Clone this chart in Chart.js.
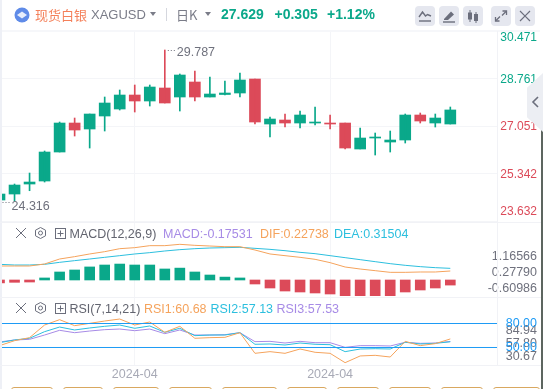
<!DOCTYPE html>
<html>
<head>
<meta charset="utf-8">
<script src="https://cdn.jsdelivr.net/npm/chart.js@4"></script>
<style>
html, body { margin: 0; padding: 0; background: #fff; overflow: hidden; }
body { width: 543px; height: 389px; position: relative; font-family: "Liberation Sans", Arial, sans-serif; }
canvas { position: absolute; left: 0; }
.t { position: absolute; white-space: nowrap; transform: translateY(-50%); font-size: 12.5px; line-height: 16px; }
.btn { position: absolute; top: 6px; width: 20px; height: 20px; background: #e5e7ef; border-radius: 4px; }
.ln { position: absolute; background: #f1f2f6; }
.tab { position: absolute; bottom: 0; top: 387px; height: 6px; border: 1px solid #d9a860; border-radius: 3px; box-sizing: border-box; }
svg { position: absolute; overflow: visible; }
</style>
</head>
<body>

<canvas id="priceChart" width="543" height="222" style="top:0"></canvas>
<canvas id="macdChart" width="543" height="74" style="top:222px"></canvas>
<canvas id="rsiChart" width="543" height="93" style="top:296px"></canvas>

<div class="ln" style="left:0;top:0;width:2px;height:389px;background:#eef0f6"></div>
<div class="ln" style="left:2px;top:30px;width:538px;height:2px;background:#f6f7fa"></div>
<div class="ln" style="left:0;top:222px;width:541px;height:1px"></div>
<div class="ln" style="left:0;top:297px;width:541px;height:1px"></div>
<div class="ln" style="left:0;top:365px;width:541px;height:1px"></div>
<div class="ln" style="left:497px;top:31px;width:1px;height:334px"></div>
<div class="ln" style="left:541px;top:130px;width:2px;height:259px;background:#5d6660"></div>

<!-- header -->
<svg style="left:14px;top:7px" width="16" height="16"><circle cx="8" cy="8" r="7.5" fill="#5f8be8"/><path d="M8 4.5 13 8 8 11.5 3 8Z" fill="#fff" opacity=".85"/></svg>
<div class="t" style="left:35px;top:13.5px;font:13px 'Noto Sans CJK SC';color:#f4805a">现货白银</div>
<div class="t" style="left:91px;top:14.5px;font-size:13px;color:#7a7c88">XAGUSD</div>
<svg style="left:150px;top:12px" width="6" height="4"><path d="M0 0H6L3 4Z" fill="#7a7c88"/></svg>
<div class="ln" style="left:166px;top:8px;width:1px;height:13px;background:#d5d7de"></div>
<div class="t" style="left:176px;top:13.5px;font:13px 'Noto Sans CJK SC';color:#7a7c88">日K</div>
<svg style="left:205px;top:12px" width="6" height="4"><path d="M0 0H6L3 4Z" fill="#7a7c88"/></svg>
<div class="t" style="left:221px;top:13.5px;font-size:14px;font-weight:bold;color:#0aa88a">27.629</div>
<div class="t" style="left:274.5px;top:13.5px;font-size:14px;font-weight:bold;color:#0aa88a">+0.305</div>
<div class="t" style="left:327px;top:13.5px;font-size:14px;font-weight:bold;color:#0aa88a">+1.12%</div>

<div class="btn" style="left:415px"><svg width="20" height="20"><path d="M4 11 7.5 6 10.500 10 12.500 8.500 16 10" fill="none" stroke="#6b6e7c" stroke-width="1.4"/><path d="M4 15H16" stroke="#6b6e7c" stroke-width="1.4"/></svg></div>
<div class="btn" style="left:439px"><svg width="20" height="20"><path d="M5 13 12 5.500 15 8.500 9 14H5Z" fill="#6b6e7c"/><path d="M4 16H16" stroke="#6b6e7c" stroke-width="1.4"/></svg></div>
<div class="btn" style="left:463px"><svg width="20" height="20"><path d="M7 4V16M13 6V17" stroke="#6b6e7c"/><rect x="5" y="6.500" width="4" height="7" fill="#6b6e7c"/><rect x="11" y="8" width="4" height="7" fill="#6b6e7c"/></svg></div>
<div class="btn" style="left:491px"><svg width="20" height="20"><path d="M11.500 5H15.500V9M8.500 15H4.500V11" fill="none" stroke="#6b6e7c" stroke-width="1.3"/><path d="M15 5.500 11 9.500M5 14.500 9 10.500" stroke="#6b6e7c" stroke-width="1.3"/></svg></div>
<div class="btn" style="left:515px"><svg width="20" height="20"><path d="M5 5 15 15M15 5 5 15" stroke="#6b6e7c" stroke-width="1.2"/></svg></div>

<!-- collapsed side tab -->
<div class="ln" style="left:527px;top:73px;width:16px;height:59px;background:#eceef3;clip-path:polygon(0 25%,100% 0,100% 100%,0 75%)"></div>
<svg style="left:532px;top:96px" width="7" height="12"><path d="M6 1 1 6 6 11" fill="none" stroke="#6b6e7c" stroke-width="1.6"/></svg>

<!-- MACD legend -->
<svg style="left:15px;top:227px" width="12" height="12"><path d="M1 1 11 11M11 1 1 11" stroke="#6b6e7c"/></svg>
<svg style="left:35px;top:227px" width="11" height="12"><path d="M5.500 .5 10.500 3.200V8.800L5.500 11.500 .5 8.800V3.200Z" fill="none" stroke="#6b6e7c"/><circle cx="5.500" cy="6" r="2" fill="none" stroke="#6b6e7c"/></svg>
<svg style="left:55px;top:228px" width="11" height="11"><rect x=".5" y=".5" width="10" height="10" fill="none" stroke="#6b6e7c"/><path d="M2.500 5.500H8.500M5.500 2.500V8.500" stroke="#6b6e7c"/></svg>
<div class="t" style="left:69.500px;top:233.500px;color:#62646f">MACD(12,26,9)</div>
<div class="t" style="left:163px;top:233.500px;color:#a78be6">MACD:-0.17531</div>
<div class="t" style="left:260px;top:233.500px;color:#f5a35c">DIF:0.22738</div>
<div class="t" style="left:334px;top:233.500px;color:#2cbfde">DEA:0.31504</div>

<!-- RSI legend -->
<svg style="left:15px;top:302px" width="12" height="12"><path d="M1 1 11 11M11 1 1 11" stroke="#6b6e7c"/></svg>
<svg style="left:35px;top:302px" width="11" height="12"><path d="M5.500 .5 10.500 3.200V8.800L5.500 11.500 .5 8.800V3.200Z" fill="none" stroke="#6b6e7c"/><circle cx="5.500" cy="6" r="2" fill="none" stroke="#6b6e7c"/></svg>
<svg style="left:55px;top:303px" width="11" height="11"><rect x=".5" y=".5" width="10" height="10" fill="none" stroke="#6b6e7c"/><path d="M2.500 5.500H8.500M5.500 2.500V8.500" stroke="#6b6e7c"/></svg>
<div class="t" style="left:69.500px;top:308.500px;color:#62646f">RSI(7,14,21)</div>
<div class="t" style="left:144px;top:308.500px;color:#f5a35c">RSI1:60.68</div>
<div class="t" style="left:210.500px;top:308.500px;color:#2cbfde">RSI2:57.13</div>
<div class="t" style="left:276.500px;top:308.500px;color:#a78be6">RSI3:57.53</div>

<!-- cut off buttons under the chart -->
<div class="tab" style="left:11px;width:42px"></div>
<div class="tab" style="left:63px;width:40px"></div>
<div class="tab" style="left:113px;width:46px"></div>
<div class="tab" style="left:169px;width:43px"></div>
<div class="tab" style="left:222px;width:55px"></div>
<div class="tab" style="left:287px;width:40px"></div>
<div class="tab" style="left:337px;width:42px"></div>
<div class="tab" style="left:389px;width:42px"></div>
<div class="tab" style="left:441px;width:42px"></div>
<div class="tab" style="left:493px;width:47px"></div>

<script>
// candles, one per trading day
var opens  = [24.387, 24.603, 24.963, 25.071, 26.115, 27.159, 26.943, 27.411, 27.663, 28.167, 27.951, 28.419, 28.095, 28.635, 28.095, 28.185, 28.239, 28.743, 27.123, 27.267, 27.159, 27.159, 27.159, 27.159, 26.223, 26.619, 26.475, 26.547, 27.447, 27.159, 27.123];
var closes = [24.603, 24.927, 25.035, 26.115, 27.159, 26.907, 27.483, 27.879, 28.167, 27.951, 28.455, 27.879, 28.887, 28.095, 28.203, 28.239, 28.707, 27.195, 27.303, 27.159, 27.447, 27.195, 27.123, 26.259, 26.619, 26.655, 26.547, 27.447, 27.231, 27.339, 27.629];
var highs  = [24.62, 24.963, 25.359, 26.151, 27.195, 27.339, 27.483, 28.095, 28.347, 28.527, 28.527, 29.787, 28.923, 29.031, 28.815, 28.671, 28.959, 28.743, 27.375, 27.483, 27.591, 27.735, 27.447, 27.159, 26.979, 26.799, 26.871, 27.483, 27.519, 27.483, 27.735];
var lows   = [24.316, 24.351, 24.722, 25.035, 26.115, 26.691, 26.259, 26.871, 27.627, 27.555, 27.771, 27.879, 27.591, 27.951, 28.095, 28.167, 28.095, 27.123, 26.655, 27.015, 26.979, 27.087, 26.943, 26.223, 26.223, 26.007, 26.115, 26.439, 27.159, 27.015, 27.123];

var macdHist = [-0.10, -0.08, -0.07, 0.07, 0.276, 0.345, 0.45, 0.517, 0.55, 0.517, 0.517, 0.38, 0.41, 0.276, 0.172, 0.10, 0.07, -0.138, -0.276, -0.38, -0.414, -0.448, -0.483, -0.586, -0.586, -0.586, -0.552, -0.414, -0.345, -0.276, -0.175];
var dif = [0.483, 0.483, 0.483, 0.552, 0.724, 0.805, 0.897, 0.977, 1.08, 1.115, 1.184, 1.184, 1.23, 1.195, 1.172, 1.149, 1.149, 1.034, 0.897, 0.839, 0.782, 0.713, 0.598, 0.448, 0.379, 0.322, 0.264, 0.264, 0.276, 0.276, 0.31];
var dea = [0.54, 0.517, 0.517, 0.54, 0.609, 0.667, 0.724, 0.782, 0.839, 0.897, 0.943, 1.0, 1.046, 1.08, 1.103, 1.115, 1.126, 1.092, 1.057, 1.011, 0.954, 0.908, 0.839, 0.77, 0.701, 0.632, 0.563, 0.506, 0.46, 0.425, 0.402];

var rsi1 = [52.3, 58.5, 62.3, 78.1, 84.8, 77.3, 80.2, 83.1, 85.6, 78.1, 81.9, 69.0, 76.5, 61.5, 62.3, 62.7, 68.5, 42.7, 44.8, 42.7, 48.1, 44.0, 42.7, 31.0, 39.4, 40.2, 38.1, 57.7, 52.3, 54.8, 60.68];
var rsi2 = [56.0, 59.4, 61.5, 69.8, 75.6, 71.9, 74.4, 76.5, 78.1, 74.0, 76.9, 69.0, 74.0, 64.8, 65.6, 65.6, 68.5, 54.0, 54.4, 53.1, 55.6, 54.0, 53.5, 44.8, 48.1, 48.5, 48.1, 56.5, 54.4, 55.2, 57.13];
var rsi3 = [56.9, 59.4, 60.2, 65.6, 71.5, 68.5, 70.6, 72.3, 73.1, 71.0, 73.1, 67.3, 71.9, 65.6, 65.6, 66.0, 68.5, 57.3, 57.7, 55.6, 57.7, 56.0, 56.0, 50.2, 52.3, 52.3, 51.9, 56.5, 55.2, 55.6, 57.53];

// tick labels
var priceTicks = [30.471, 28.761, 27.051, 25.342, 23.632];
var macdTicks = [1.16566, 0.27790, -0.60986];
var rsiTicks = [84.94, 57.80, 30.67];
var rsiLevels = [80, 50];
var dateTicks = [9, 22];
var dateLabels = ['2024-04', '2024-04'];

var lastPrice = 27.629;
var GREEN = '#0aa88a', RED = '#dc4a59', GRID = '#f4f5f8', GREY = '#6f717d', BLUE = '#1e9bf5', FONT = '"Liberation Sans", Arial, sans-serif';
var X_MIN = 0.033, X_MAX = 33.107, PX_PER_BAR = 15.027;

function xy(arr) { return arr.map(function (v, i) { return { x: i, y: v }; }); }

// same horizontal scale in the three panes so the candles line up, axisWidth is what is left of 497px
function xAxis(showLabels, axisWidth) {
  return {
    type: 'linear', min: X_MIN, max: X_MAX - (axisWidth - 40) / PX_PER_BAR, offset: false,
    afterBuildTicks: function (s) { s.ticks = dateTicks.map(function (v) { return { value: v }; }); },
    afterFit: function (s) { s.height = showLabels ? 24 : 0; },
    border: { display: false },
    grid: { color: GRID, drawTicks: false, offset: false },
    ticks: {
      display: showLabels, maxRotation: 0, padding: 2, color: '#a8aab6', font: { family: FONT, size: 12.5 },
      callback: function (v) { return dateLabels[dateTicks.indexOf(v)]; }
    }
  };
}

function rightAxis(min, max, tickVals, digits, axisWidth, extra) {
  var o = {
    position: 'right', min: min, max: max,
    afterBuildTicks: function (s) { s.ticks = tickVals.map(function (v) { return { value: v }; }); },
    // no room kept for half a label above and below, the panes sit edge to edge
    afterFit: function (s) { s.width = axisWidth; s.paddingTop = 0; s.paddingBottom = 0; },
    border: { display: false },
    grid: { display: false, drawTicks: false },
    ticks: {
      crossAlign: 'far', padding: 0, color: GREY, font: { family: FONT, size: 12.5 },
      callback: function (v) { return v.toFixed(digits); }
    }
  };
  return Object.assign(o, extra || {});
}

var baseOptions = {
  responsive: false, animation: false, events: [],
  plugins: { legend: { display: false }, tooltip: { enabled: false } }
};

function lineSet(data, color, axis) {
  return { type: 'line', data: xy(data), borderColor: color, borderWidth: 1, pointRadius: 0, tension: 0, yAxisID: axis };
}

function levelSet(level) {
  return { type: 'line', data: [{ x: X_MIN, y: level }, { x: X_MAX, y: level }], borderColor: BLUE, borderWidth: 1, pointRadius: 0, yAxisID: 'y2' };
}

// price labels are pulled inside the pane at both ends, plus the high/low markers
var pricePlugin = {
  id: 'priceLabels',
  afterDraw: function (chart) {
    var c = chart.ctx, y = chart.scales.y, x = chart.scales.x, area = chart.chartArea;
    c.save();
    c.font = '12px ' + FONT;
    c.textAlign = 'right';
    c.textBaseline = 'middle';
    priceTicks.forEach(function (v) {
      var py = Math.min(Math.max(y.getPixelForValue(v) + 1, area.top + 6.5), area.bottom - 9);
      c.fillStyle = v > lastPrice ? GREEN : RED;
      c.fillText(v.toFixed(3), 537, py);
    });
    var hi = Math.max.apply(null, highs), lo = Math.min.apply(null, lows);
    [[highs.indexOf(hi), hi, 3], [lows.indexOf(lo), lo, 5]].forEach(function (m) {
      var px = x.getPixelForValue(m[0]), py = y.getPixelForValue(m[1]);
      c.strokeStyle = GREY;
      c.setLineDash([1, 2]);
      c.beginPath();
      c.moveTo(Math.max(px + 3, 2), py + 0.5);
      c.lineTo(px + 11, py + 0.5);
      c.stroke();
      c.fillStyle = GREY;
      c.textAlign = 'left';
      c.font = '12.5px ' + FONT;
      c.fillText(m[1].toFixed(3), px + 12, py + m[2]);
    });
    c.restore();
  }
};

// blue level labels of the RSI pane
var levelPlugin = {
  id: 'levelLabels',
  afterDraw: function (chart) {
    var c = chart.ctx, y = chart.scales.y2;
    c.save();
    c.font = '12.5px ' + FONT;
    c.textAlign = 'right';
    c.textBaseline = 'middle';
    c.fillStyle = BLUE;
    rsiLevels.forEach(function (v) { c.fillText(v.toFixed(2), 537, y.getPixelForValue(v)); });
    c.restore();
  }
};

new Chart(document.getElementById('priceChart').getContext('2d'), {
  type: 'bar',
  data: {
    datasets: [
      {
        data: highs.map(function (h, i) { return { x: i, y: [lows[i], h] }; }),
        backgroundColor: closes.map(function (v, i) { return v >= opens[i] ? GREEN : RED; }),
        barThickness: 1, grouped: false
      },
      {
        data: opens.map(function (o, i) { return { x: i, y: [o, closes[i]] }; }),
        backgroundColor: closes.map(function (v, i) { return v >= opens[i] ? GREEN : RED; }),
        barThickness: 11, grouped: false
      }
    ]
  },
  options: Object.assign({}, baseOptions, {
    layout: { autoPadding: false, padding: { top: 31, right: 6, bottom: 1, left: 0 } },
    scales: {
      x: xAxis(false, 40),
      y: rightAxis(23.632, 30.471, priceTicks, 3, 40, {
        grid: { color: GRID, drawTicks: false },
        ticks: { display: false }
      })
    }
  }),
  plugins: [pricePlugin]
});

// MACD labels are wider than the 40px column
new Chart(document.getElementById('macdChart').getContext('2d'), {
  type: 'bar',
  data: {
    datasets: [
      lineSet(dif, '#f5a35c', 'y2'),
      lineSet(dea, '#2cbfde', 'y2'),
      {
        data: xy(macdHist), yAxisID: 'y2', barThickness: 10,
        backgroundColor: macdHist.map(function (v) { return v >= 0 ? GREEN : RED; })
      }
    ]
  },
  options: Object.assign({}, baseOptions, {
    layout: { autoPadding: false, padding: { right: 6 } },
    scales: {
      x: xAxis(false, 50),
      y: rightAxis(-1.017, 3.027, macdTicks, 5, 50),
      y2: { display: false, position: 'right', min: -0.552, max: 2.0 }
    }
  })
});

new Chart(document.getElementById('rsiChart').getContext('2d'), {
  type: 'line',
  data: {
    datasets: [
      levelSet(rsiLevels[0]),
      levelSet(rsiLevels[1]),
      lineSet(rsi1, '#f5a35c', 'y2'),
      lineSet(rsi2, '#2cbfde', 'y2'),
      lineSet(rsi3, '#a78be6', 'y2')
    ]
  },
  options: Object.assign({}, baseOptions, {
    layout: { autoPadding: false, padding: { right: 6 } },
    scales: {
      x: xAxis(true, 40),
      y: rightAxis(12.6, 156.3, rsiTicks, 2, 40),
      y2: { display: false, position: 'right', min: 28.1, max: 114.4 }
    }
  }),
  plugins: [levelPlugin]
});
</script>
</body>
</html>
